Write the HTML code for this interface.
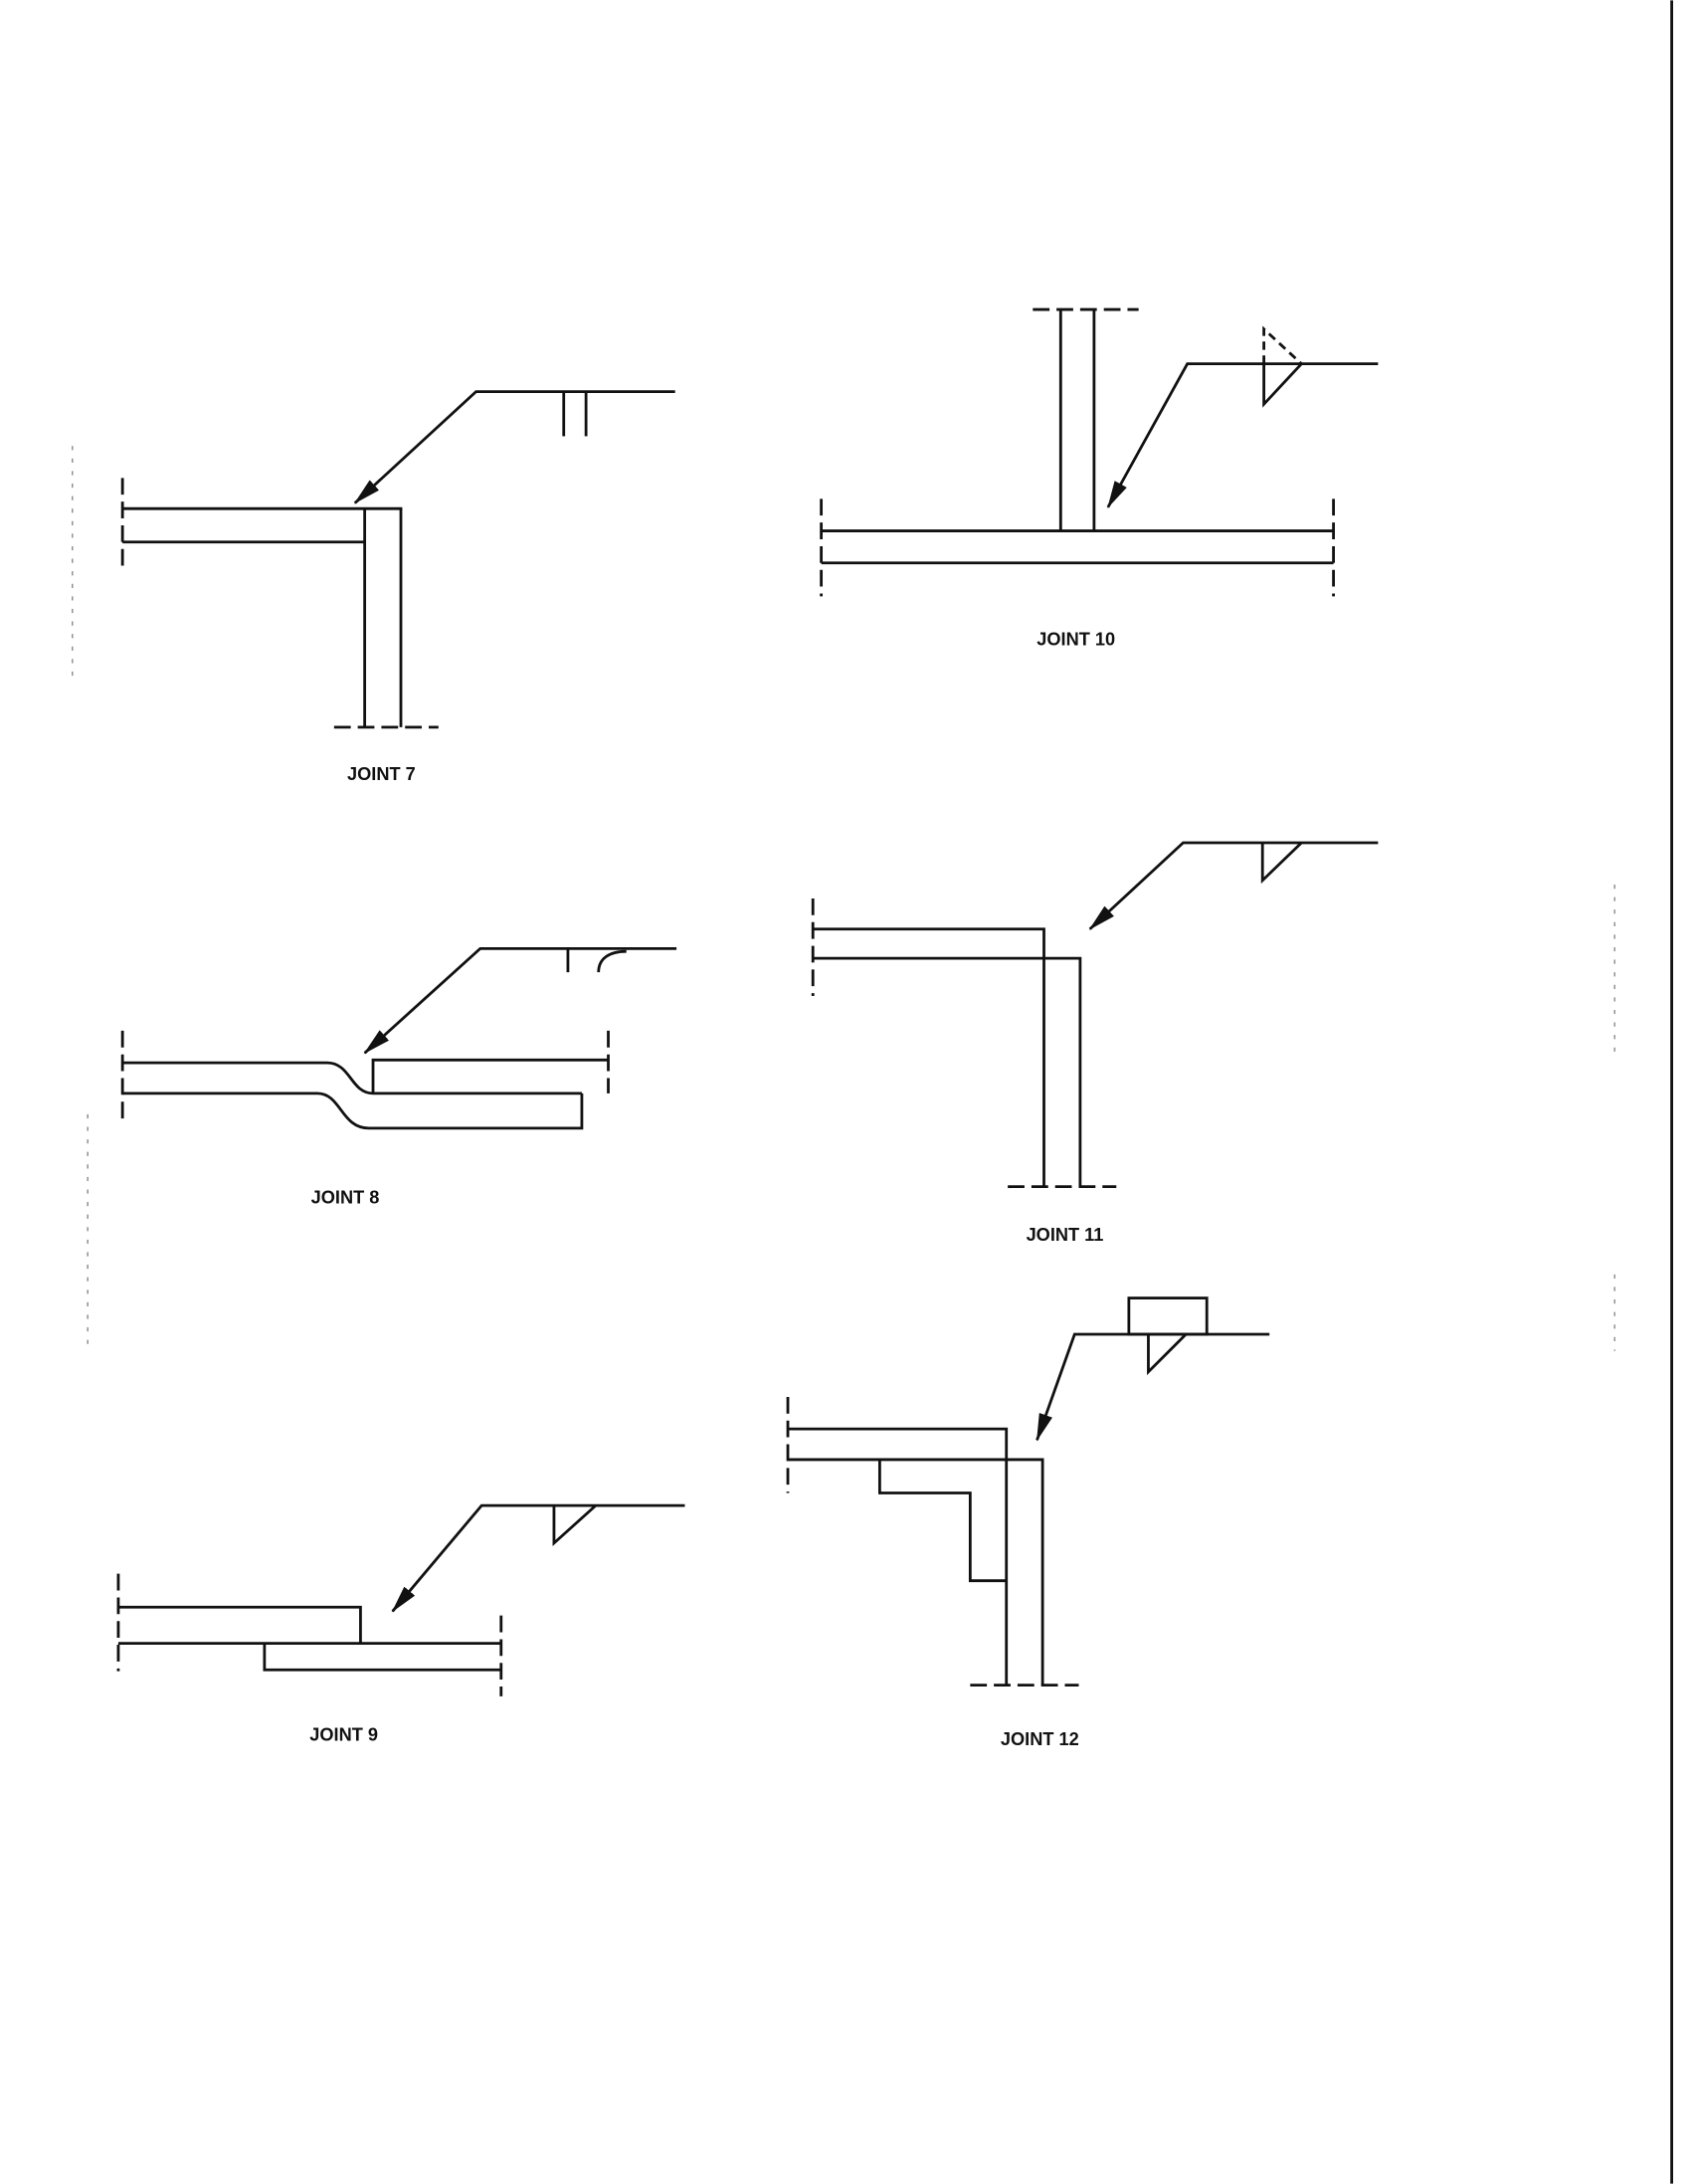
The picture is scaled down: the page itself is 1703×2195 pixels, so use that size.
<!DOCTYPE html>
<html><head><meta charset="utf-8"><style>
html,body{margin:0;padding:0;background:#fff;}
svg{display:block;}
text{font-family:"Liberation Sans",sans-serif;font-weight:bold;font-size:13px;fill:#111;text-anchor:middle;}
</style></head><body>
<svg width="1703" height="2195" viewBox="0 0 1217 1568" xmlns="http://www.w3.org/2000/svg">
<defs><marker id="a" viewBox="0 0 10 10" refX="9" refY="5" markerWidth="9" markerHeight="9" orient="auto" markerUnits="userSpaceOnUse"><path d="M0,0 L10,5 L0,10 z" fill="#111"/></marker>
<marker id="b" viewBox="0 0 20 10" refX="19" refY="5" markerWidth="20" markerHeight="10" orient="auto" markerUnits="userSpaceOnUse"><path d="M0,0 L20,5 L0,10 z" fill="#111"/></marker></defs>
<g stroke="#111" stroke-width="2" fill="none">
<line x1="1201" y1="0" x2="1201" y2="1568" stroke-width="2"/>
<!-- Joint 7 -->
<line x1="88" y1="365" x2="289" y2="365"/><line x1="88" y1="389" x2="262" y2="389"/>
<line x1="262" y1="365" x2="262" y2="522"/><line x1="288" y1="365" x2="288" y2="522"/>
<line x1="88" y1="343" x2="88" y2="410" stroke-dasharray="12,5"/>
<line x1="240" y1="522" x2="315" y2="522" stroke-dasharray="12,5"/>
<polyline points="485,281 342,281 255,361" marker-end="url(#b)"/>
<line x1="405" y1="281" x2="405" y2="313"/><line x1="421" y1="281" x2="421" y2="313"/>
<!-- Joint 10 -->
<line x1="762" y1="222" x2="762" y2="381"/><line x1="786" y1="222" x2="786" y2="381"/>
<line x1="742" y1="222" x2="818" y2="222" stroke-dasharray="12,5"/>
<line x1="590" y1="381" x2="958" y2="381"/><line x1="590" y1="404" x2="958" y2="404"/>
<line x1="590" y1="358" x2="590" y2="428" stroke-dasharray="12,5"/>
<line x1="958" y1="358" x2="958" y2="428" stroke-dasharray="12,5"/>
<polyline points="990,261 853,261 796,364" marker-end="url(#b)"/>
<polyline points="908,261 908,236 935,261" stroke-dasharray="6,4"/>
<polyline points="908,261 908,290 935,261"/>
<!-- Joint 8 -->
<path d="M88,763 L235,763 C252,763 252,785 268,785"/>
<path d="M88,785 L228,785 C245,785 245,810 265,810 L418,810 L418,785"/>
<polyline points="268,785 268,761 437,761"/>
<line x1="268" y1="785" x2="418" y2="785"/>
<line x1="88" y1="740" x2="88" y2="805" stroke-dasharray="12,5"/>
<line x1="437" y1="740" x2="437" y2="785" stroke-dasharray="12,5"/>
<polyline points="486,681 345,681 262,756" marker-end="url(#b)"/>
<line x1="408" y1="681" x2="408" y2="698"/>
<path d="M430,698 C430,688 438,683 450,683"/>
<!-- Joint 11 -->
<polyline points="584,667 750,667 750,688"/>
<polyline points="584,688 776,688 776,852"/>
<line x1="750" y1="688" x2="750" y2="852"/>
<line x1="724" y1="852" x2="802" y2="852" stroke-dasharray="12,5"/>
<line x1="584" y1="645" x2="584" y2="715" stroke-dasharray="12,5"/>
<polyline points="990,605 850,605 783,667" marker-end="url(#b)"/>
<polyline points="907,605 907,632 935,605"/>
<!-- Joint 9 -->
<polyline points="85,1154 259,1154 259,1180"/>
<line x1="85" y1="1180" x2="360" y2="1180"/>
<polyline points="190,1180 190,1199 360,1199"/>
<line x1="85" y1="1130" x2="85" y2="1200" stroke-dasharray="12,5"/>
<line x1="360" y1="1160" x2="360" y2="1218" stroke-dasharray="12,5"/>
<polyline points="492,1081 346,1081 282,1157" marker-end="url(#b)"/>
<polyline points="398,1081 398,1108 428,1081"/>
<!-- Joint 12 -->
<polyline points="566,1026 723,1026 723,1048"/>
<polyline points="566,1048 749,1048 749,1210"/>
<line x1="723" y1="1048" x2="723" y2="1210"/>
<line x1="697" y1="1210" x2="775" y2="1210" stroke-dasharray="12,5"/>
<polyline points="632,1048 632,1072 697,1072 697,1135 723,1135"/>
<line x1="566" y1="1003" x2="566" y2="1072" stroke-dasharray="12,5"/>
<polyline points="912,958 772,958 745,1034" marker-end="url(#b)"/>
<rect x="811" y="932" width="56" height="26"/>
<polyline points="825,958 825,985 852,958"/>
<!-- margin marks -->
<line x1="52" y1="320" x2="52" y2="490" stroke-width="1" stroke="#888" stroke-dasharray="3,6"/>
<line x1="63" y1="800" x2="63" y2="970" stroke-width="1" stroke="#888" stroke-dasharray="3,6"/>
<line x1="1160" y1="635" x2="1160" y2="760" stroke-width="1" stroke="#888" stroke-dasharray="3,6"/>
<line x1="1160" y1="915" x2="1160" y2="970" stroke-width="1" stroke="#888" stroke-dasharray="3,6"/>
</g>
<text x="274" y="560">JOINT 7</text>
<text x="773" y="463">JOINT 10</text>
<text x="248" y="864">JOINT 8</text>
<text x="765" y="891">JOINT 11</text>
<text x="247" y="1250">JOINT 9</text>
<text x="747" y="1253">JOINT 12</text>
</svg>
</body></html>
